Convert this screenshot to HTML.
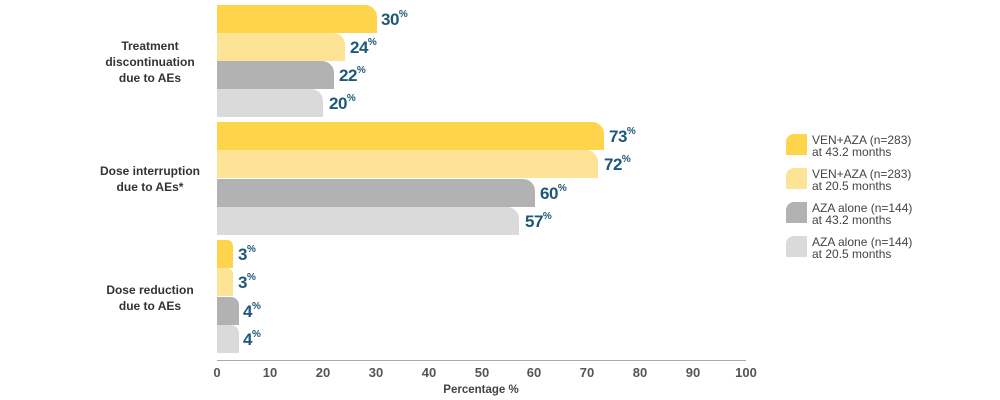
<!DOCTYPE html>
<html><head><meta charset="utf-8"><style>
body{margin:0;width:1000px;height:400px;background:#fff;font-family:"Liberation Sans",sans-serif;position:relative;overflow:hidden}
.b{position:absolute;left:217px;height:28px;border-top-right-radius:12px}
.v{position:absolute;font-weight:bold;font-size:17px;color:#1d5877;line-height:17px;letter-spacing:-0.5px}
.v sup{font-size:10px;vertical-align:top;line-height:10px;position:relative;top:-1px;letter-spacing:0}
.c{position:absolute;width:160px;left:70px;text-align:center;font-weight:bold;font-size:12px;color:#333;line-height:16px}
.t{position:absolute;top:365px;font-size:13px;font-weight:bold;color:#555;width:40px;margin-left:-20px;text-align:center}
.k{position:absolute;left:786px;width:21px;height:21px;border-top-left-radius:8px}
.lt{position:absolute;left:812px;font-size:12px;color:#444;line-height:12px}
</style></head><body>
<div class="c" style="top:38px">Treatment<br>discontinuation<br>due to AEs</div>
<div class="c" style="top:163px">Dose interruption<br>due to AEs*</div>
<div class="c" style="top:282px">Dose reduction<br>due to AEs</div>

<div class="b" style="top:5px;width:160px;background:#fdd44a"></div>
<div class="b" style="top:33px;width:128px;background:#fde396"></div>
<div class="b" style="top:61px;width:117px;background:#b2b2b2"></div>
<div class="b" style="top:89px;width:106px;background:#dadada"></div>
<div class="b" style="top:122px;width:387px;background:#fdd44a"></div>
<div class="b" style="top:150px;width:381px;background:#fde396"></div>
<div class="b" style="top:179px;width:318px;background:#b2b2b2"></div>
<div class="b" style="top:207px;width:302px;background:#dadada"></div>
<div class="b" style="top:240px;width:16px;background:#fdd44a;border-top-right-radius:6px"></div>
<div class="b" style="top:268px;width:16px;background:#fde396;border-top-right-radius:6px"></div>
<div class="b" style="top:297px;width:22px;background:#b2b2b2;border-top-right-radius:8px"></div>
<div class="b" style="top:325px;width:22px;background:#dadada;border-top-right-radius:8px"></div>

<div class="v" style="left:381px;top:11px">30<sup>%</sup></div>
<div class="v" style="left:350px;top:39px">24<sup>%</sup></div>
<div class="v" style="left:339px;top:67px">22<sup>%</sup></div>
<div class="v" style="left:329px;top:95px">20<sup>%</sup></div>
<div class="v" style="left:609px;top:128px">73<sup>%</sup></div>
<div class="v" style="left:604px;top:156px">72<sup>%</sup></div>
<div class="v" style="left:540px;top:185px">60<sup>%</sup></div>
<div class="v" style="left:525px;top:213px">57<sup>%</sup></div>
<div class="v" style="left:238px;top:246px">3<sup>%</sup></div>
<div class="v" style="left:238px;top:274px">3<sup>%</sup></div>
<div class="v" style="left:243px;top:303px">4<sup>%</sup></div>
<div class="v" style="left:243px;top:331px">4<sup>%</sup></div>

<div style="position:absolute;left:217px;top:360px;width:529px;height:1px;background:#aaa"></div>
<div class="t" style="left:217px">0</div><div class="t" style="left:270px">10</div><div class="t" style="left:323px">20</div><div class="t" style="left:376px">30</div><div class="t" style="left:429px">40</div><div class="t" style="left:482px">50</div><div class="t" style="left:534px">60</div><div class="t" style="left:587px">70</div><div class="t" style="left:640px">80</div><div class="t" style="left:693px">90</div><div class="t" style="left:746px">100</div>
<div style="position:absolute;left:381px;width:200px;text-align:center;top:384px;font-size:11.5px;font-weight:bold;color:#444">Percentage %</div>

<div class="k" style="top:134px;background:#fdd44a"></div><div class="lt" style="top:134px">VEN+AZA (n=283)<br>at 43.2 months</div>
<div class="k" style="top:168px;background:#fde396"></div><div class="lt" style="top:168px">VEN+AZA (n=283)<br>at 20.5 months</div>
<div class="k" style="top:202px;background:#b2b2b2"></div><div class="lt" style="top:202px">AZA alone (n=144)<br>at 43.2 months</div>
<div class="k" style="top:236px;background:#dadada"></div><div class="lt" style="top:236px">AZA alone (n=144)<br>at 20.5 months</div>
</body></html>
